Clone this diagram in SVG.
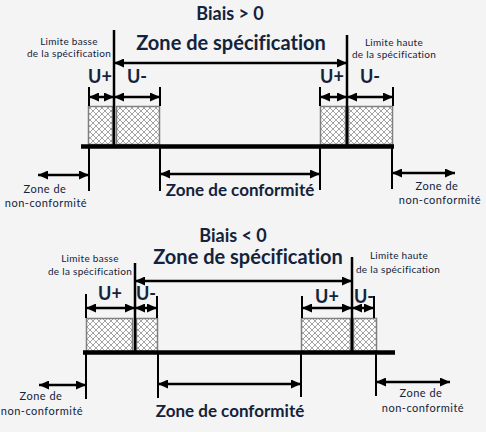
<svg xmlns="http://www.w3.org/2000/svg" width="486" height="432" viewBox="0 0 486 432">
<style>
.t{font-family:Lato,"Open Sans",sans-serif;fill:#13233b;text-anchor:middle;font-variant-ligatures:none}
.title{font-size:18px;font-weight:bold}
.big{font-size:20px;font-weight:bold}
.mid{font-size:17px;font-weight:bold}
.u{font-size:18px;font-weight:bold}
.sm{font-size:10px;letter-spacing:0.3px}
.nc{font-size:11px;letter-spacing:0.5px}
.ln{stroke:#000;stroke-width:2;fill:none}
.lim{stroke:#000;stroke-width:2.5;fill:none}
.bar{stroke:#000;stroke-width:4.5;fill:none}
.arr{stroke:#000;stroke-width:2.5;fill:none;marker-start:url(#ah);marker-end:url(#ah)}
.h{fill:url(#hatch);stroke:#7f7f7f;stroke-width:1.5}
</style>
<defs>
<marker id="ah" markerUnits="userSpaceOnUse" markerWidth="11" markerHeight="9" refX="10" refY="4.5" orient="auto-start-reverse">
<path d="M0,0 L10,4.5 L0,9 z" fill="#000"/>
</marker>
<pattern id="hatch" patternUnits="userSpaceOnUse" width="6" height="6">
<rect width="6" height="6" fill="#ffffff"/>
<path d="M0,0 L6,6 M6,0 L0,6" stroke="#9a9a9a" stroke-width="0.9"/>
</pattern>
</defs>
<rect width="486" height="432" fill="#f4f4f4"/>

<g id="top">
<g id="top-labels">
<text class="t title" x="230" y="20">Biais &gt; 0</text>
<text class="t big" x="231" y="50">Zone de spécification</text>
<text class="t sm" x="69" y="45">Limite basse</text>
<text class="t sm" x="69" y="57">de la spécification</text>
<text class="t sm" x="394" y="46">Limite haute</text>
<text class="t sm" x="394" y="58">de la spécification</text>
<text class="t u" x="100" y="83">U+</text>
<text class="t u" x="137" y="83">U-</text>
<text class="t u" x="332" y="83">U+</text>
<text class="t u" x="370" y="83">U-</text>
<text class="t nc" x="45" y="193">Zone de</text>
<text class="t nc" x="46" y="207">non-conformité</text>
<text class="t mid" x="240" y="196">Zone de conformité</text>
<text class="t nc" x="437" y="190">Zone de</text>
<text class="t nc" x="440" y="204">non-conformité</text>
</g>
<g id="top-hatch">
<rect class="h" x="88.5" y="106.5" width="24" height="38"/>
<rect class="h" x="116.5" y="106.5" width="43" height="38"/>
<rect class="h" x="320.5" y="106.5" width="25" height="38"/>
<rect class="h" x="348.5" y="106.5" width="44" height="38"/>
</g>
</g>

<g id="bottom">
<g id="bottom-labels">
<text class="t title" x="233" y="242">Biais &lt; 0</text>
<text class="t big" x="248" y="264">Zone de spécification</text>
<text class="t sm" x="90" y="262">Limite basse</text>
<text class="t sm" x="90" y="275">de la spécification</text>
<text class="t sm" x="399" y="259">Limite haute</text>
<text class="t sm" x="398" y="273">de la spécification</text>
<text class="t u" x="110" y="300">U+</text>
<text class="t u" x="146" y="300">U-</text>
<text class="t u" x="327" y="303">U+</text>
<text class="t u" x="364" y="303">U-</text>
<text class="t nc" x="41" y="400">Zone de</text>
<text class="t nc" x="42" y="415">non-conformité</text>
<text class="t mid" x="230" y="417">Zone de conformité</text>
<text class="t nc" x="421" y="397">Zone de</text>
<text class="t nc" x="423" y="412">non-conformité</text>
</g>
<g id="bottom-hatch">
<rect class="h" x="86.5" y="318.5" width="46" height="33"/>
<rect class="h" x="136.5" y="318.5" width="21" height="33"/>
<rect class="h" x="301.5" y="318.5" width="49" height="33"/>
<rect class="h" x="353.5" y="318.5" width="23" height="33"/>
</g>
</g>

<g id="connectors">
<line class="bar" x1="81" y1="146.5" x2="394" y2="146.5"/>
<line class="lim" x1="114" y1="30" x2="114" y2="146"/>
<line class="lim" x1="347" y1="35" x2="347" y2="146"/>
<line class="arr" x1="114" y1="63" x2="347" y2="63"/>
<line class="ln" x1="89" y1="87" x2="89" y2="106"/>
<line class="ln" x1="160" y1="87" x2="160" y2="106"/>
<line class="ln" x1="320" y1="87" x2="320" y2="106"/>
<line class="ln" x1="393" y1="87" x2="393" y2="106"/>
<line class="arr" x1="89" y1="97" x2="114" y2="97"/>
<line class="arr" x1="114" y1="97" x2="160" y2="97"/>
<line class="arr" x1="320" y1="97" x2="347" y2="97"/>
<line class="arr" x1="347" y1="97" x2="393" y2="97"/>
<line class="ln" x1="89" y1="147" x2="89" y2="191"/>
<line class="ln" x1="160" y1="147" x2="160" y2="191"/>
<line class="ln" x1="320" y1="147" x2="320" y2="190"/>
<line class="ln" x1="392" y1="147" x2="392" y2="189"/>
<line class="arr" x1="38" y1="175" x2="89" y2="175"/>
<line class="arr" x1="160" y1="174" x2="320" y2="174"/>
<line class="arr" x1="392" y1="173" x2="455" y2="173"/>
<line class="bar" x1="83" y1="352.5" x2="395" y2="352.5"/>
<line class="lim" x1="135" y1="263" x2="135" y2="352"/>
<line class="lim" x1="352" y1="257" x2="352" y2="352"/>
<line class="arr" x1="135" y1="281" x2="352" y2="281"/>
<line class="ln" x1="86" y1="294" x2="86" y2="318"/>
<line class="ln" x1="157" y1="296" x2="157" y2="318"/>
<line class="ln" x1="302" y1="296" x2="302" y2="318"/>
<line class="ln" x1="374" y1="296" x2="374" y2="318"/>
<line class="arr" x1="86" y1="308" x2="135" y2="308"/>
<line class="arr" x1="135" y1="308" x2="157" y2="308"/>
<line class="arr" x1="302" y1="308" x2="352" y2="308"/>
<line class="arr" x1="352" y1="308" x2="374" y2="308"/>
<line class="ln" x1="86" y1="353" x2="86" y2="399"/>
<line class="ln" x1="158" y1="353" x2="158" y2="398"/>
<line class="ln" x1="301" y1="353" x2="301" y2="397"/>
<line class="ln" x1="376" y1="353" x2="376" y2="396"/>
<line class="arr" x1="39" y1="385" x2="86" y2="385"/>
<line class="arr" x1="158" y1="384" x2="301" y2="384"/>
<line class="arr" x1="376" y1="382" x2="450" y2="382"/>
</g>
</svg>
